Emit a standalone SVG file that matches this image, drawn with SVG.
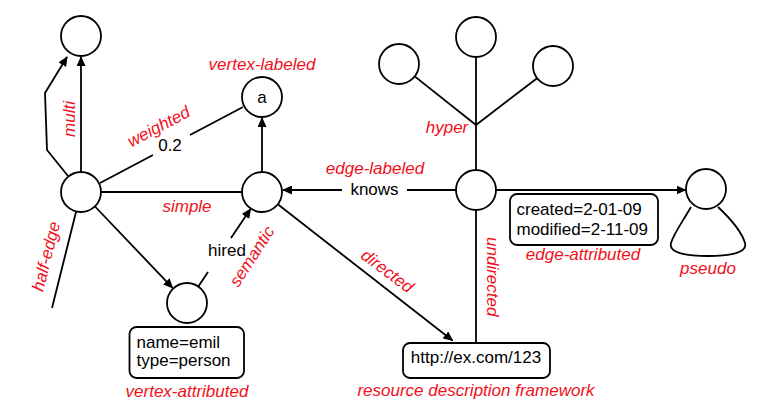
<svg xmlns="http://www.w3.org/2000/svg" width="784" height="413" viewBox="0 0 784 413">
<style>
.n{fill:#fff;stroke:#000;stroke-width:1.8}
.e{stroke:#000;stroke-width:1.8;fill:none}
.a{marker-end:url(#arr)}
.t{font-family:"Liberation Sans",Arial,Helvetica,sans-serif;font-size:17px;fill:#000}
.c{text-anchor:middle}
.l{font-family:"Liberation Sans",Arial,Helvetica,sans-serif;font-size:17px;font-style:italic;fill:#f01020;text-anchor:middle}
</style>
<defs>
<marker id="arr" markerUnits="userSpaceOnUse" viewBox="0 0 10 9" refX="9" refY="4.5" markerWidth="10" markerHeight="9" orient="auto">
<path d="M0,0 L10,4.5 L0,9 z" fill="#000"/>
</marker>
</defs>
<rect width="784" height="413" fill="#fff"/>
<g id="connectors">
<path class="e a" d="M81,172 L81,57"/>
<path class="e a" d="M68,176 L47,150 L45,93 L67,57"/>
<path class="e" d="M100,183 L153,155"/>
<path class="e" d="M190,135 L243,107"/>
<path class="e a" d="M262,172 L262,118"/>
<path class="e" d="M101,192 L242,192"/>
<path class="e" d="M76,212 L52,308"/>
<path class="e a" d="M95,206.5 L172.5,287.8"/>
<path class="e" d="M198,287 L208,272"/>
<path class="e a" d="M231,238 L250.5,209"/>
<path class="e a" d="M277.8,204.3 L452.5,340.5"/>
<path class="e" d="M456,190 L407,190"/>
<path class="e a" d="M342,190 L283,190"/>
<path class="e a" d="M496,190 L685.5,190"/>
<path class="e" d="M476,57 L476,170"/>
<path class="e" d="M414.7,76.4 L476,125"/>
<path class="e" d="M537.1,78.2 L476,125"/>
<path class="e" d="M476,210 L476,343"/>
<path class="e" d="M691,207 C683,221 674,233 671,243 C668,254 690,256 708,256 C726,256 748,254 745,243 C742,233 733,221 718,207"/>
</g>
<g id="n-top"><circle class="n" cx="81" cy="36" r="20"/></g>
<g id="n-a"><circle class="n" cx="262" cy="97" r="20"/><text class="t c" x="262" y="103">a</text></g>
<g id="n-main"><circle class="n" cx="81" cy="192" r="20"/></g>
<g id="n-sem"><circle class="n" cx="262" cy="192" r="20"/></g>
<g id="n-emp"><circle class="n" cx="187" cy="303" r="20"/></g>
<g id="box-emil"><rect class="n" x="129.5" y="327" width="114.5" height="51" rx="7"/><text class="t" x="136.5" y="348">name=emil</text><text class="t" x="136.5" y="366">type=person</text></g>
<g id="n-hub"><circle class="n" cx="476" cy="190" r="20"/></g>
<g id="n-h1"><circle class="n" cx="399" cy="64" r="20"/></g>
<g id="n-h2"><circle class="n" cx="476" cy="37" r="20"/></g>
<g id="n-h3"><circle class="n" cx="553" cy="66" r="20"/></g>
<g id="n-pseudo"><circle class="n" cx="706" cy="189" r="20"/></g>
<g id="box-created"><rect class="n" x="510" y="194" width="148" height="51" rx="7"/><text class="t" x="516.5" y="215">created=2-01-09</text><text class="t" x="516.5" y="235">modified=2-11-09</text></g>
<g id="box-http"><rect class="n" x="403" y="343" width="147" height="35" rx="7"/><text class="t c" x="476" y="363">http://ex.com/123</text></g>
<g id="edge-labels">
<text class="t c" x="170" y="150.5">0.2</text>
<text class="t c" x="374.5" y="195">knows</text>
<text class="t c" x="227" y="256">hired</text>
</g>
<g id="type-labels">
<text class="l" x="262" y="69.5">vertex-labeled</text>
<text class="l" transform="translate(159.3,127.7) rotate(-28)" x="0" y="4.3">weighted</text>
<text class="l" transform="translate(75,119) rotate(-90)" x="0" y="0">multi</text>
<text class="l" x="187" y="212">simple</text>
<text class="l" transform="translate(47.5,256.7) rotate(-76)" x="0" y="4.3">half-edge</text>
<text class="l" transform="translate(252.5,256.7) rotate(-57)" x="0" y="5">semantic</text>
<text class="l" x="375" y="173.5">edge-labeled</text>
<text class="l" x="447" y="133">hyper</text>
<text class="l" transform="translate(387.5,270.8) rotate(37)" x="0" y="6">directed</text>
<text class="l" transform="translate(493.3,276.7) rotate(90)" x="0" y="6">undirected</text>
<text class="l" x="583" y="260">edge-attributed</text>
<text class="l" x="708" y="273.5">pseudo</text>
<text class="l" x="187" y="396.5">vertex-attributed</text>
<text class="l" x="476" y="395.5">resource description framework</text>
</g>
</svg>
